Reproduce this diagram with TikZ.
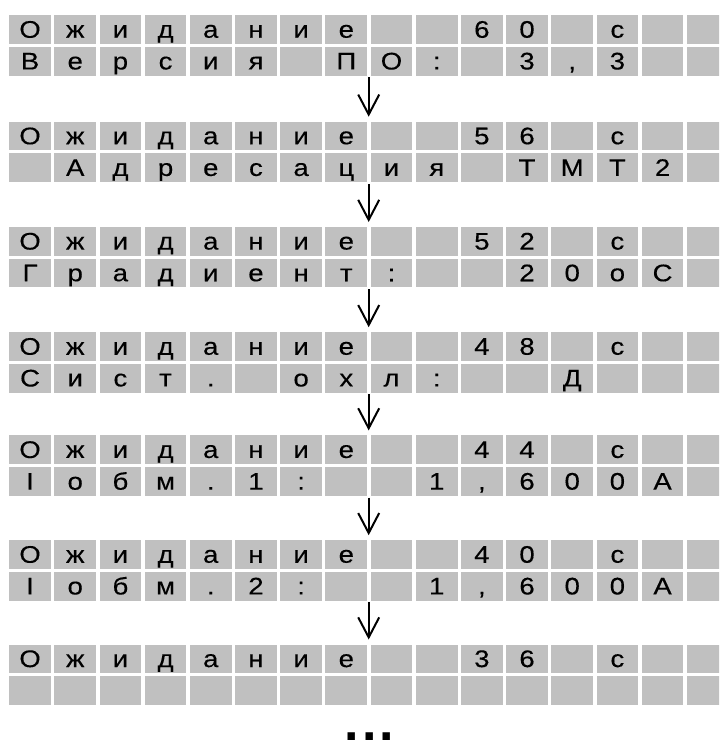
\documentclass[tikz,border=0pt]{standalone}
\usepackage{fontspec}
\setmainfont{Liberation Sans}
\newfontfamily\lcdfont[FakeBold=0.25]{Liberation Sans}
\usetikzlibrary{arrows.meta}
\definecolor{cellgray}{RGB}{192,192,192}
\newcommand\lcdrow[3]{%
  \foreach \t [count=\i from 0] in {#3} {
    \node[cell] (#1-\i) at ({9+\i*45.18}, #2) {\scalebox{1.15}[1]{\t}};
  }%
}
\begin{document}
\begin{tikzpicture}[x=1pt,y=-1pt,
  cell/.style={fill=cellgray, draw=none, minimum width=41.7pt, minimum height=28.7pt,
    inner sep=0pt, anchor=north west, text height=19pt, text depth=2.6pt,
    font=\lcdfont\fontsize{24}{28}\selectfont},
  blockbox/.style={draw=none, inner sep=0pt, minimum width=719pt, minimum height=60.4pt, anchor=north},
  flowarrow/.style={line width=2pt, -{Straight Barb[length=20pt, width=21pt]}},
  dotstyle/.style={font=\bfseries\fontsize{52}{52}\selectfont, anchor=base, inner sep=0pt}]
\useasboundingbox (0,0) rectangle (719,743);
\clip (0,0) rectangle (719,743);
% block 1
\lcdrow{a1}{15}{О,ж,и,д,а,н,и,е,{},{},6,0,{},с,{},{}}
\lcdrow{a2}{46.7}{В,е,р,с,и,я,{},П,О,:,{},3,{,},3,{},{}}
\node[blockbox] (blk1) at (368.7,15) {};
% block 2
\lcdrow{b1}{121.5}{О,ж,и,д,а,н,и,е,{},{},5,6,{},с,{},{}}
\lcdrow{b2}{153.2}{{},А,д,р,е,с,а,ц,и,я,{},Т,М,Т,2,{}}
\node[blockbox] (blk2) at (368.7,121.5) {};
% block 3
\lcdrow{c1}{226.8}{О,ж,и,д,а,н,и,е,{},{},5,2,{},с,{},{}}
\lcdrow{c2}{258.5}{Г,р,а,д,и,е,н,т,:,{},{},2,0,о,С,{}}
\node[blockbox] (blk3) at (368.7,226.8) {};
% block 4
\lcdrow{d1}{332}{О,ж,и,д,а,н,и,е,{},{},4,8,{},с,{},{}}
\lcdrow{d2}{363.7}{С,и,с,т,.,{},о,х,л,:,{},{},Д,{},{},{}}
\node[blockbox] (blk4) at (368.7,332) {};
% block 5
\lcdrow{e1}{435.2}{О,ж,и,д,а,н,и,е,{},{},4,4,{},с,{},{}}
\lcdrow{e2}{466.9}{I,о,б,м,.,1,:,{},{},1,{,},6,0,0,А,{}}
\node[blockbox] (blk5) at (368.7,435.2) {};
% block 6
\lcdrow{f1}{540}{О,ж,и,д,а,н,и,е,{},{},4,0,{},с,{},{}}
\lcdrow{f2}{571.7}{I,о,б,м,.,2,:,{},{},1,{,},6,0,0,А,{}}
\node[blockbox] (blk6) at (368.7,540) {};
% block 7
\lcdrow{g1}{644.3}{О,ж,и,д,а,н,и,е,{},{},3,6,{},с,{},{}}
\lcdrow{g2}{676}{{},{},{},{},{},{},{},{},{},{},{},{},{},{},{},{}}
\node[blockbox] (blk7) at (368.7,644.3) {};
% arrows
\foreach \p/\n in {blk1/blk2,blk2/blk3,blk3/blk4,blk4/blk5,blk5/blk6,blk6/blk7}
  \draw[flowarrow] ([yshift=-1.5pt]\p.south) -- ([yshift=4.8pt]\n.north);
% ellipsis
\node[dotstyle] (dots) at (369.5,740) {.\hspace{3pt}.\hspace{3pt}.};
\end{tikzpicture}
\end{document}
